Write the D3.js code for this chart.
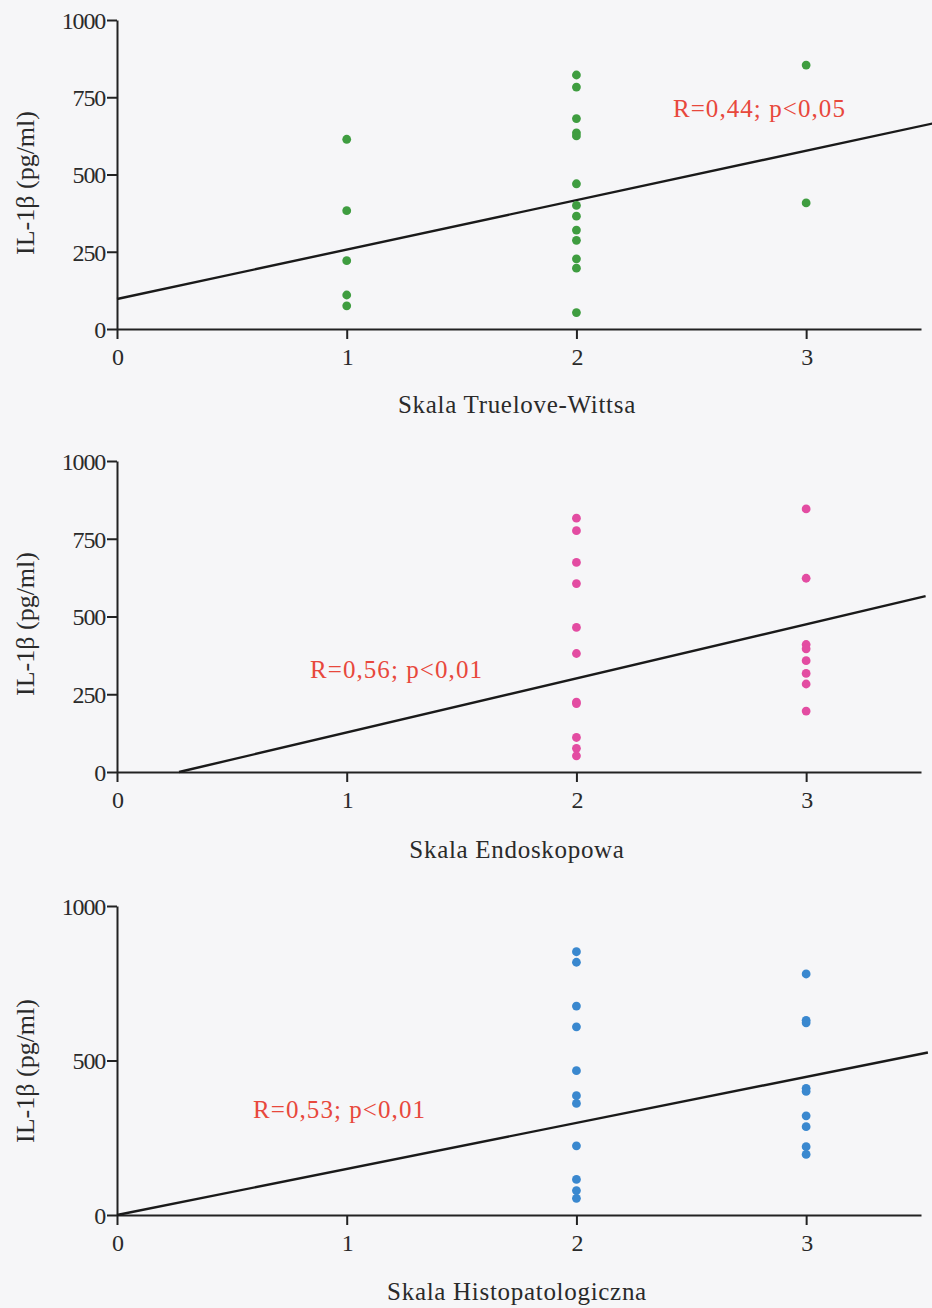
<!DOCTYPE html>
<html>
<head>
<meta charset="utf-8">
<script src="https://cdn.jsdelivr.net/npm/d3@7"></script>
<style>
  html, body { margin: 0; padding: 0; background: #f6f6f8; }
  svg { display: block; }
  svg text { font-family: 'Liberation Serif', 'Times New Roman', serif !important; }
</style>
</head>
<body>
<svg id="chart" width="932" height="1308"></svg>
<script>
// IL-1β concentration vs. clinical / endoscopic / histopathological score
const scaleTicks = [0, 1, 2, 3];
const yTicksFine = [0, 250, 500, 750, 1000];
const yTicksCoarse = [0, 500, 1000];

// Panel 1: Truelove-Witts scale
const tw1 = [614, 383, 221, 110, 75];
const tw2 = [822, 783, 681, 635, 625, 470, 400, 365, 320, 287, 227, 197, 53];
const tw3 = [854, 408];

// Panel 2: endoscopic scale
const en2 = [816, 776, 674, 606, 465, 381, 225, 220, 111, 76, 52];
const en3 = [846, 623, 410, 396, 358, 317, 283, 196];

// Panel 3: histopathological scale
const hp2 = [852, 818, 676, 609, 467, 386, 361, 224, 115, 79, 54];
const hp3 = [780, 630, 622, 410, 400, 321, 286, 221, 196];

// regression lines: [intercept, slope]
const fit1 = [97, 160];
const fit2 = [-47, 174];
const fit3 = [0, 149];

const stats = ["R=0,44; p<0,05", "R=0,56; p<0,01", "R=0,53; p<0,01"];
const xTitles = ["Skala Truelove-Wittsa", "Skala Endoskopowa", "Skala Histopatologiczna"];
const yTitle = "IL-1β (pg/ml)";

const panels = [
  { groups: [[1, tw1], [2, tw2], [3, tw3]], fit: fit1, lineEnd: 3.55,
    color: "#3f9d40", yTicks: yTicksFine, yRange: [329, 20],
    stat: stats[0], statPos: [2.42, 687], title: xTitles[0], titleY: 413, yTitleY: 183 },
  { groups: [[2, en2], [3, en3]], fit: fit2, lineEnd: 3.52,
    color: "#e34ca2", yTicks: yTicksFine, yRange: [772, 461],
    stat: stats[1], statPos: [0.84, 303], title: xTitles[1], titleY: 858, yTitleY: 624 },
  { groups: [[2, hp2], [3, hp3]], fit: fit3, lineEnd: 3.53,
    color: "#3a88cf", yTicks: yTicksCoarse, yRange: [1215, 906],
    stat: stats[2], statPos: [0.592, 315], title: xTitles[2], titleY: 1300, yTitleY: 1071 }
];

const serif = "'Liberation Serif', 'Times New Roman', serif";
const svg = d3.select("#chart");
const x = d3.scaleLinear().domain([0, 3.5]).range([117, 921]);

panels.forEach(p => {
  const y = d3.scaleLinear().domain([0, 1000]).range(p.yRange);
  const g = svg.append("g");

  // axes
  const xAxis = d3.axisBottom(x).tickValues(scaleTicks).tickSize(10).tickPadding(12)
    .tickSizeOuter(0).tickFormat(d3.format("d"));
  const gx = g.append("g").attr("transform", `translate(0,${y(0)})`).call(xAxis);
  const yAxis = d3.axisLeft(y).tickValues(p.yTicks).tickSize(10).tickPadding(2)
    .tickSizeOuter(0).tickFormat(d3.format("d"));
  const gy = g.append("g").attr("transform", `translate(${x(0)},0)`).call(yAxis);

  [gx, gy].forEach(a => {
    a.attr("font-family", serif).attr("font-size", 24);
    a.select(".domain").attr("stroke", "#222").attr("stroke-width", 2);
    a.selectAll(".tick line").attr("stroke", "#222").attr("stroke-width", 2);
    a.selectAll(".tick text").attr("fill", "#2a2a2a").attr("letter-spacing", -1.2);
  });
  gx.selectAll(".tick text").attr("dy", "0.6em");
  gy.selectAll(".tick text").attr("dy", "0.35em");

  // regression line, starting where it crosses zero if intercept is negative
  const [b, m] = p.fit;
  const x0 = Math.max(0, -b / m);
  g.append("line")
    .attr("x1", x(x0)).attr("y1", y(b + m * x0))
    .attr("x2", x(p.lineEnd)).attr("y2", y(b + m * p.lineEnd))
    .attr("stroke", "#1a1a1a").attr("stroke-width", 2.4);

  // data points
  p.groups.forEach(([score, vals]) => {
    g.selectAll(null).data(vals).enter().append("circle")
      .attr("cx", x(score)).attr("cy", d => y(d))
      .attr("r", 4.4).attr("fill", p.color);
  });

  // correlation annotation
  g.append("text")
    .attr("x", x(p.statPos[0])).attr("y", y(p.statPos[1]))
    .attr("font-family", serif).attr("font-size", 25)
    .attr("textLength", 172).attr("lengthAdjust", "spacing")
    .attr("fill", "#e8483c").text(p.stat);

  // axis titles
  g.append("text")
    .attr("x", 517).attr("y", p.titleY).attr("text-anchor", "middle")
    .attr("font-family", serif).attr("font-size", 25).attr("letter-spacing", 0.7)
    .attr("fill", "#2a2a2a").text(p.title);
  g.append("text")
    .attr("transform", `translate(34,${p.yTitleY}) rotate(-90)`)
    .attr("text-anchor", "middle").attr("font-family", serif).attr("font-size", 26)
    .attr("fill", "#2a2a2a").text(yTitle);
});
</script>
</body>
</html>
